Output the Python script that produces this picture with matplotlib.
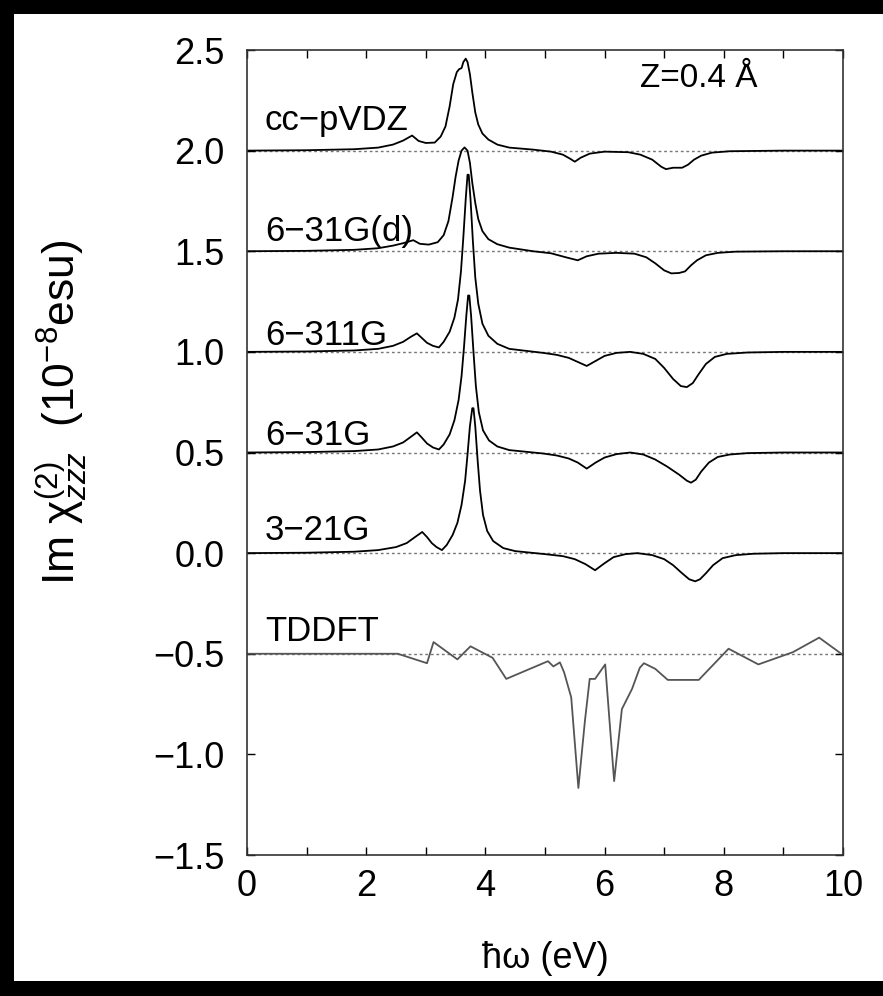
import matplotlib
matplotlib.use('Agg')
import matplotlib.pyplot as plt
from matplotlib.patches import Rectangle
from matplotlib.ticker import MultipleLocator

plt.rcParams['font.family'] = ['Liberation Sans', 'DejaVu Sans']
plt.rcParams['mathtext.fontset'] = 'custom'
plt.rcParams['mathtext.rm'] = 'Liberation Sans'
plt.rcParams['mathtext.it'] = 'Liberation Sans:italic'

# basis set names and their vertical offsets
names = ['cc−pVDZ', '6−31G(d)', '6−311G', '6−31G', '3−21G', 'TDDFT']
offsets = [2.0, 1.5, 1.0, 0.5, 0.0, -0.5]

# signal values (before offset)
x_ccpvdz = [0, 1.0, 1.8, 2.2, 2.45, 2.62, 2.77, 2.88, 3.0, 3.15, 3.25, 3.33, 3.40, 3.46, 3.52, 3.56, 3.60, 3.63,
            3.67, 3.70, 3.74, 3.78, 3.83, 3.88, 3.95, 4.05, 4.2, 4.4, 4.8, 5.1, 5.3, 5.42, 5.5, 5.6, 5.75, 6.0,
            6.4, 6.6, 6.8, 6.95, 7.03, 7.15, 7.3, 7.4, 7.5, 7.62, 7.8, 8.1, 9.0, 10.0]
y_ccpvdz = [0, 0.002, 0.007, 0.015, 0.03, 0.05, 0.075, 0.048, 0.038, 0.04, 0.07, 0.12, 0.22, 0.33, 0.39, 0.405, 0.41, 0.44,
            0.457, 0.44, 0.38, 0.29, 0.19, 0.13, 0.085, 0.055, 0.03, 0.015, 0.005, -0.005, -0.02, -0.04, -0.055, -0.035, -0.015, -0.005,
            -0.008, -0.02, -0.045, -0.08, -0.092, -0.085, -0.085, -0.07, -0.045, -0.025, -0.01, -0.003, 0, 0]

x_631gd = [0, 1.0, 1.8, 2.2, 2.45, 2.62, 2.79, 2.9, 3.05, 3.2, 3.3, 3.38, 3.45, 3.50, 3.55, 3.60, 3.65, 3.70, 3.74,
           3.78, 3.83, 3.88, 3.95, 4.05, 4.2, 4.4, 4.8, 5.1, 5.35, 5.55, 5.7, 5.9, 6.2, 6.5, 6.7, 6.85, 7.0, 7.12,
           7.25, 7.35, 7.45, 7.55, 7.7, 7.9, 8.2, 9.0, 10.0]
y_631gd = [0, 0.002, 0.007, 0.015, 0.028, 0.04, 0.055, 0.037, 0.033, 0.045, 0.08, 0.15, 0.27, 0.37, 0.45, 0.50, 0.516, 0.50, 0.44,
           0.34, 0.24, 0.16, 0.10, 0.06, 0.035, 0.018, 0.0, -0.01, -0.03, -0.045, -0.025, -0.012, -0.008, -0.012, -0.03, -0.06, -0.095, -0.11,
           -0.108, -0.1, -0.07, -0.045, -0.02, -0.008, -0.002, 0, 0]

x_6311g = [0, 1.0, 1.8, 2.2, 2.45, 2.62, 2.75, 2.85, 2.93, 3.02, 3.12, 3.22, 3.3, 3.4, 3.48, 3.54, 3.59, 3.63, 3.67,
           3.70, 3.72, 3.75, 3.79, 3.83, 3.88, 3.95, 4.05, 4.2, 4.4, 4.97, 5.2, 5.4, 5.55, 5.70, 5.85, 6.0, 6.2, 6.43,
           6.65, 6.85, 7.0, 7.15, 7.28, 7.38, 7.48, 7.58, 7.7, 7.85, 8.05, 8.4, 9.0, 10.0]
y_6311g = [0, 0.002, 0.007, 0.015, 0.03, 0.05, 0.075, 0.092, 0.07, 0.045, 0.03, 0.022, 0.05, 0.1, 0.17, 0.26, 0.40, 0.57, 0.76,
           0.88, 0.88, 0.76, 0.55, 0.37, 0.24, 0.14, 0.08, 0.04, 0.015, -0.005, -0.015, -0.03, -0.05, -0.07, -0.045, -0.02, -0.005, 0.0,
           -0.01, -0.035, -0.08, -0.135, -0.17, -0.175, -0.155, -0.11, -0.06, -0.025, -0.01, -0.003, 0, 0]

x_631g = [0, 1.0, 1.8, 2.2, 2.45, 2.62, 2.75, 2.85, 2.93, 3.02, 3.12, 3.22, 3.3, 3.4, 3.48, 3.55, 3.60, 3.64, 3.68,
          3.71, 3.73, 3.76, 3.80, 3.84, 3.89, 3.96, 4.06, 4.2, 4.4, 4.97, 5.2, 5.4, 5.55, 5.70, 5.85, 6.0, 6.2, 6.43,
          6.65, 6.85, 7.05, 7.25, 7.38, 7.45, 7.53, 7.62, 7.75, 7.9, 8.1, 8.4, 9.0, 10.0]
y_631g = [0, 0.002, 0.007, 0.015, 0.03, 0.05, 0.078, 0.1, 0.075, 0.045, 0.025, 0.015, 0.04, 0.09, 0.16, 0.26, 0.38, 0.52, 0.68,
          0.78, 0.78, 0.68, 0.50, 0.33, 0.20, 0.11, 0.06, 0.03, 0.012, -0.005, -0.015, -0.03, -0.05, -0.08, -0.05, -0.025, -0.008, 0.0,
          -0.01, -0.035, -0.07, -0.11, -0.14, -0.15, -0.135, -0.095, -0.05, -0.022, -0.01, -0.003, 0, 0]

x_321g = [0, 1.0, 1.8, 2.2, 2.5, 2.68, 2.82, 2.94, 3.02, 3.1, 3.18, 3.27, 3.35, 3.45, 3.53, 3.60, 3.66, 3.70, 3.74,
          3.78, 3.80, 3.83, 3.87, 3.91, 3.96, 4.03, 4.13, 4.3, 4.5, 5.0, 5.3, 5.5, 5.68, 5.84, 6.0, 6.15, 6.35, 6.55,
          6.8, 7.0, 7.15, 7.3, 7.42, 7.52, 7.6, 7.7, 7.82, 7.98, 8.2, 8.5, 9.0, 10.0]
y_321g = [0, 0.002, 0.007, 0.015, 0.03, 0.05, 0.08, 0.105, 0.08, 0.05, 0.03, 0.015, 0.04, 0.09, 0.15, 0.24, 0.36, 0.49, 0.63,
          0.72, 0.72, 0.63, 0.46, 0.31, 0.19, 0.11, 0.06, 0.025, 0.01, -0.005, -0.015, -0.03, -0.055, -0.085, -0.05, -0.02, -0.005, 0.0,
          -0.01, -0.03, -0.06, -0.1, -0.13, -0.14, -0.13, -0.1, -0.06, -0.025, -0.01, -0.003, 0, 0]

x_tddft = [0, 2.53, 3.02, 3.13, 3.53, 3.75, 4.12, 4.35, 5.05, 5.14, 5.25, 5.32, 5.44, 5.56, 5.67, 5.75, 5.84, 6.01, 6.16,
           6.29, 6.46, 6.59, 6.66, 6.85, 7.06, 7.58, 8.08, 8.58, 9.16, 9.60, 10.05]
y_tddft = [0, 0, -0.047, 0.058, -0.028, 0.037, -0.02, -0.125, -0.037, -0.063, -0.043, -0.092, -0.217, -0.667, -0.333, -0.125,
           -0.125, -0.053, -0.633, -0.275, -0.175, -0.07, -0.047, -0.075, -0.13, -0.13, 0.025, -0.053, 0.008, 0.08, -0.017]

xs = [x_ccpvdz, x_631gd, x_6311g, x_631g, x_321g, x_tddft]
ys = [y_ccpvdz, y_631gd, y_6311g, y_631g, y_321g, y_tddft]
label_y = [2.15, 1.60, 1.08, 0.585, 0.11, -0.39]

fig = plt.figure(figsize=(8.83, 9.96), dpi=100, facecolor='black')
fig.patches.append(Rectangle((14 / 883, 15 / 996), 1, 1 - 29 / 996, transform=fig.transFigure,
                             facecolor='white', edgecolor='none', zorder=-5))
ax = fig.add_axes([247 / 883, 1 - 855 / 996, 596 / 883, 805 / 996])
ax.set_zorder(2)

for i in range(len(names)):
    ax.plot([0, 10], [offsets[i], offsets[i]], color='#777777', lw=1.0, ls=(0, (2, 2)), zorder=1)
    col = '#555555' if names[i] == 'TDDFT' else 'black'
    ax.plot(xs[i], [v + offsets[i] for v in ys[i]], color=col, lw=1.3, zorder=2)
    ax.text(0.3, label_y[i], names[i], fontsize=25, va='center', ha='left')

ax.text(6.6, 2.36, 'Z=0.4 Å', fontsize=24, va='center', ha='left')

ax.set_xlim(0, 10)
ax.set_ylim(-1.5, 2.5)
ax.xaxis.set_major_locator(MultipleLocator(2))
ax.xaxis.set_minor_locator(MultipleLocator(1))
ax.set_yticks([-1.5, -1.0, -0.5, 0.0, 0.5, 1.0, 1.5, 2.0, 2.5])
ax.set_yticklabels(['−1.5', '−1.0', '−0.5', '0.0', '0.5', '1.0', '1.5', '2.0', '2.5'])
ax.tick_params(which='both', direction='in', top=True, right=True, length=6, width=1, labelsize=26)
ax.tick_params(axis='y', pad=16)
ax.tick_params(axis='x', pad=10)
for s in ax.spines.values():
    s.set_linewidth(1.2)
    s.set_color('#333333')

fig.text(545 / 883, 1 - 958 / 996, 'ħω (eV)', fontsize=26, ha='center', va='center')
fig.text(62 / 883, 1 - 412 / 996, r'Im χ$^{(2)}_{zzz}$  (10$^{-8}$esu)', fontsize=32,
         rotation=90, ha='center', va='center')

fig.savefig('out.png', dpi=100, facecolor=fig.get_facecolor())
